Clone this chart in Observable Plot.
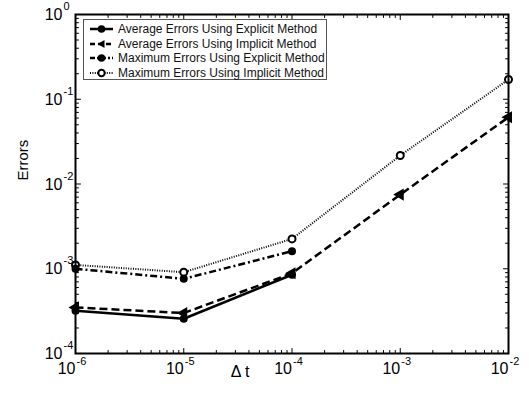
<!DOCTYPE html>
<html>
<head>
<meta charset="utf-8">
<script src="https://cdn.jsdelivr.net/npm/d3@7"></script>
<script src="https://cdn.jsdelivr.net/npm/@observablehq/plot@0.6"></script>
<style>
  body { margin: 0; background: #fff; }
  #chart { position: relative; width: 529px; height: 402px; font-family: "Liberation Sans", Arial, Helvetica, sans-serif; }
  #chart svg { display: block; }
  #legend { position: absolute; left: 83px; top: 19px; width: 244px; height: 61px; box-sizing: border-box;
            border: 1px solid #555; background: #fff; padding-top: 2px; }
  .row { display: flex; align-items: center; height: 14.5px; font-size: 12px; color: #111; white-space: nowrap; }
  .row svg { margin-left: 5px; margin-right: 4px; }
</style>
</head>
<body>
<div id="chart"></div>
<script>
// Time steps and measured errors for each scheme
const dt = [1e-6, 1e-5, 1e-4, 1e-3, 1e-2];
const avgExplicit = [3.2e-4, 2.57e-4, 8.5e-4];
const avgImplicit = [3.5e-4, 3.0e-4, 8.85e-4, 7.5e-3, 6.14e-2];
const maxExplicit = [1.0e-3, 7.6e-4, 1.61e-3];
const maxImplicit = [1.11e-3, 9.1e-4, 2.25e-3, 2.17e-2, 1.71e-1];

const seriesNames = [
  "Average Errors Using Explicit Method",
  "Average Errors Using Implicit Method",
  "Maximum Errors Using Explicit Method",
  "Maximum Errors Using Implicit Method"
];

// Axis decades and the minor-tick multipliers inside each decade
const decadesX = [1e-6, 1e-5, 1e-4, 1e-3, 1e-2];
const decadesY = [1e-4, 1e-3, 1e-2, 1e-1, 1];
const minorSteps = [2, 3, 4, 5, 6, 7, 8, 9];

const minorX = decadesX.slice(0, -1).flatMap(d => minorSteps.map(m => d * m));
const minorY = decadesY.slice(0, -1).flatMap(d => minorSteps.map(m => d * m));

const toRows = (values, name) => values.map((err, i) => ({dt: dt[i], err, series: name}));
const rowsAE = toRows(avgExplicit, seriesNames[0]);
const rowsAI = toRows(avgImplicit, seriesNames[1]);
const rowsME = toRows(maxExplicit, seriesNames[2]);
const rowsMI = toRows(maxImplicit, seriesNames[3]);

// Short tick segment drawn inward from an edge of the frame
const tickShape = { draw(ctx, l) { ctx.moveTo(0, 0); ctx.lineTo(0, -l); } };
const ticks = (values, side, len) => {
  const rot = {bottom: 0, top: 180, left: 90, right: -90}[side];
  const ch = (side === "bottom" || side === "top") ? {x: d => d} : {y: d => d};
  return Plot.vector(values, {...ch, frameAnchor: side, rotate: rot, length: len, anchor: "start",
                              shape: tickShape, stroke: "black", strokeWidth: 1});
};

const font = "Liberation Sans, Arial, Helvetica, sans-serif";
const exponent = d => String(Math.round(Math.log10(d)));
const lineStyle = {x: "dt", y: "err", stroke: "black", strokeLinecap: "butt", strokeLinejoin: "miter"};

const plot = Plot.plot({
  width: 529,
  height: 402,
  marginLeft: 75,
  marginRight: 21,
  marginTop: 14,
  marginBottom: 49,
  style: {fontFamily: font, background: "white", color: "black"},
  x: {type: "log", domain: [1e-6, 1e-2], axis: null},
  y: {type: "log", domain: [1e-4, 1], axis: null},
  marks: [
    // series lines
    Plot.line(rowsMI, {...lineStyle, strokeWidth: 2, strokeDasharray: "1,1.4"}),
    Plot.line(rowsME, {...lineStyle, strokeWidth: 2.5, strokeDasharray: "7,3,2,3"}),
    Plot.line(rowsAI, {...lineStyle, strokeWidth: 2.5, strokeDasharray: "8,4"}),
    Plot.line(rowsAE, {...lineStyle, strokeWidth: 2.5}),
    // series markers
    Plot.dot(rowsMI, {x: "dt", y: "err", r: 3.5, fill: "white", stroke: "black", strokeWidth: 2}),
    Plot.dot(rowsME, {x: "dt", y: "err", r: 4, fill: "black", stroke: "none"}),
    Plot.dot(rowsAI, {x: "dt", y: "err", symbol: "triangle", rotate: -90, r: 4.5, fill: "black", stroke: "none"}),
    Plot.dot(rowsAE, {x: "dt", y: "err", r: 4, fill: "black", stroke: "none"}),
    // inward ticks on all four sides
    ticks(decadesX, "bottom", 5), ticks(decadesX, "top", 5),
    ticks(minorX, "bottom", 3), ticks(minorX, "top", 3),
    ticks(decadesY, "left", 5), ticks(decadesY, "right", 5),
    ticks(minorY, "left", 3), ticks(minorY, "right", 3),
    Plot.frame({stroke: "black", strokeWidth: 2}),
    // tick labels: base 10 with a raised exponent
    Plot.text(decadesX, {x: d => d, frameAnchor: "bottom", text: () => "10", textAnchor: "end",
                         dy: 20.5, dx: 0, fontSize: 16, fill: "black"}),
    Plot.text(decadesX, {x: d => d, frameAnchor: "bottom", text: exponent, textAnchor: "start",
                         dy: 11, dx: 1, fontSize: 11, fill: "black"}),
    Plot.text(decadesY, {y: d => d, frameAnchor: "left", text: () => "10", textAnchor: "end",
                         dx: -13, dy: 0.5, fontSize: 16, fill: "black"}),
    Plot.text(decadesY, {y: d => d, frameAnchor: "left", text: exponent, textAnchor: "start",
                         dx: -12, dy: -8, fontSize: 11, fill: "black"}),
    // axis titles
    Plot.text(["\u0394 t"], {frameAnchor: "bottom", dx: -52, dy: 23, fontSize: 16, fill: "black"}),
    Plot.text(["Errors"], {frameAnchor: "left", dx: -52.5, dy: -3.5, rotate: -90, fontSize: 15, fill: "black"})
  ]
});

const chart = document.getElementById("chart");
chart.appendChild(plot);

// Legend box in the upper-left corner of the axes
const legend = document.createElement("div");
legend.id = "legend";
const samples = [
  {dash: null, width: 2.5, marker: "dot"},
  {dash: "5,3", width: 2.5, marker: "triangle"},
  {dash: "5,2,2,2", width: 2.5, marker: "dot"},
  {dash: "1,1.4", width: 2, marker: "ring"}
];
seriesNames.forEach((name, i) => {
  const s = samples[i];
  const row = document.createElement("div");
  row.className = "row";
  const svg = d3.create("svg").attr("width", 25).attr("height", 12);
  svg.append("line").attr("x1", 1).attr("x2", 24).attr("y1", 6).attr("y2", 6)
    .attr("stroke", "black").attr("stroke-width", s.width).attr("stroke-dasharray", s.dash);
  if (s.marker === "dot") svg.append("circle").attr("cx", 12.5).attr("cy", 6).attr("r", 3.8).attr("fill", "black");
  if (s.marker === "ring") svg.append("circle").attr("cx", 12.5).attr("cy", 6).attr("r", 3.2)
    .attr("fill", "white").attr("stroke", "black").attr("stroke-width", 2);
  if (s.marker === "triangle") svg.append("path").attr("d", "M8.5,6L15.5,2L15.5,10Z").attr("fill", "black");
  row.appendChild(svg.node());
  const label = document.createElement("span");
  label.textContent = name;
  row.appendChild(label);
  legend.appendChild(row);
});
chart.appendChild(legend);
</script>
</body>
</html>
